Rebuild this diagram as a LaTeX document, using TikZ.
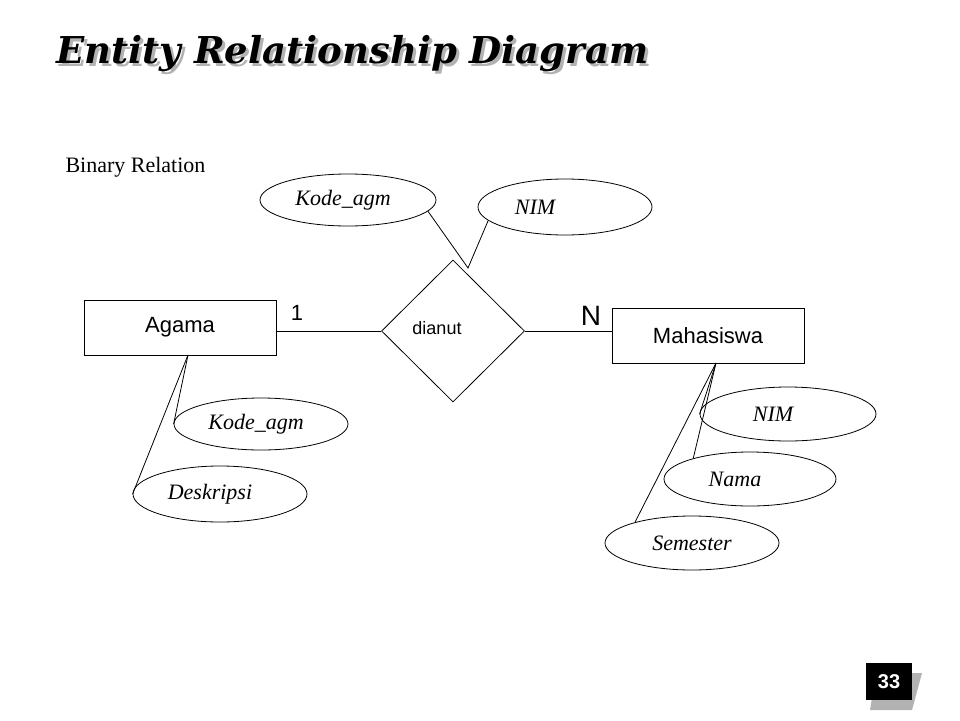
\documentclass[tikz,border=0pt]{standalone}
\usepackage{fontspec}
\setmainfont{Liberation Serif}
\newfontfamily\sans{Liberation Sans}
\newfontfamily\titlef{DejaVu Serif}
\usetikzlibrary{shapes.geometric}
\begin{document}
\begin{tikzpicture}[x=1pt,y=-1pt,
  ent/.style={draw,line width=0.8pt,minimum width=192pt,minimum height=55pt,inner sep=0pt,font=\sans\fontsize{22}{26}\selectfont},
  att/.style={draw,ellipse,line width=0.8pt,inner sep=0pt,font=\itshape\fontsize{22}{26}\selectfont},
  ln/.style={line width=0.8pt}]
\useasboundingbox (0,0) rectangle (960,720);
\fill[white] (0,0) rectangle (960,720);
% title
\node (title)[font=\titlef\bfseries\itshape\fontsize{37}{44}\selectfont,anchor=west,text=black] at (53,55) {\makebox[0pt][l]{\hspace*{3pt}\raisebox{-3pt}{\textcolor{gray!60}{Entity Relationship Diagram}}}Entity Relationship Diagram};
\node (bin)[anchor=west,font=\fontsize{22}{26}\selectfont] at (62,167) {Binary Relation};
% entities
\node (agama)[ent] at (180,327.5) {Agama};
\node (mhs)[ent] at (708,335.5) {Mahasiswa};
\node (rel)[draw,diamond,line width=0.8pt,minimum width=143pt,minimum height=142pt,inner sep=0pt] at (453,331) {};
\node (reltxt)[font=\sans\fontsize{18}{21}\selectfont] at (437,328) {dianut};
\node (one)[font=\sans\fontsize{22}{26}\selectfont] at (297,313) {1};
\node (n)[font=\sans\fontsize{28}{32}\selectfont] at (591,316) {N};
\draw[ln] (agama.east |- rel.west) -- (rel.west);
\draw[ln] (rel.east) -- (mhs.west |- rel.east);
% top attributes
\node (ka1)[att,minimum width=176pt,minimum height=52pt] at (348,200) {\hspace*{-10pt}Kode\_agm};
\node (nim1)[att,minimum width=174pt,minimum height=56pt] at (565,207) {\hspace*{-60pt}NIM};
\coordinate (v1) at (468,268);
\draw[ln] (ka1.-8) -- (v1) -- (nim1.190);
% agama attributes
\node (ka2)[att,minimum width=174pt,minimum height=52pt] at (261,424) {\hspace*{-10pt}Kode\_agm};
\node (desk)[att,minimum width=174pt,minimum height=56pt] at (220,494) {\hspace*{-20pt}Deskripsi};
\coordinate (a1) at (188,355);
\draw[ln] (a1) -- (ka2.west);
\draw[ln] (a1) -- (desk.west);
% mahasiswa attributes
\node (nim2)[att,minimum width=176pt,minimum height=54pt] at (788,414) {\hspace*{-30pt}NIM};
\node (nama)[att,minimum width=172pt,minimum height=54pt] at (750,479) {\hspace*{-30pt}Nama};
\node (sem)[att,minimum width=174pt,minimum height=54pt] at (692,543) {Semester};
\coordinate (m1) at (716,363);
\draw[ln] (m1) -- (nim2.west);
\draw[ln] (m1) -- (nama.160);
\draw[ln] (m1) -- (sem.160);
% page number
\fill[gray!60] (876,673) -- (922,673) -- (912,710) -- (870,710) -- cycle;
\node (pg)[fill=black,text=white,minimum width=46pt,minimum height=37pt,inner sep=0pt,font=\sans\bfseries\fontsize{20}{24}\selectfont] at (889,681.5) {33};
\end{tikzpicture}
\end{document}
